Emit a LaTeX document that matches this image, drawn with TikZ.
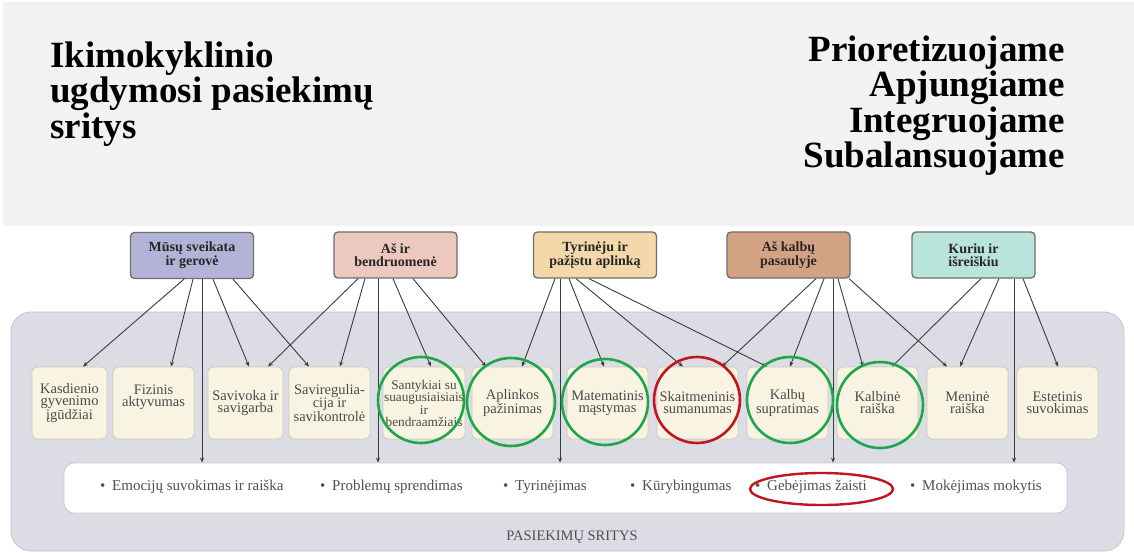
\documentclass[tikz,border=0pt]{standalone}
\usepackage{fontspec}
\setmainfont{Liberation Serif}
\usetikzlibrary{arrows.meta,shapes.geometric}
\definecolor{bandgray}{HTML}{F2F2F2}
\definecolor{panelc}{HTML}{DCDCE5}
\definecolor{paneledge}{HTML}{C4C4CC}
\definecolor{wedge}{HTML}{C9C9C9}
\definecolor{linkc}{HTML}{3C3C3C}
\definecolor{boxedge}{HTML}{6E6E6E}
\definecolor{areaedge}{HTML}{CFCABB}
\definecolor{cream}{HTML}{F8F4E1}
\definecolor{ringgreen}{HTML}{1FA64B}
\definecolor{ringred}{HTML}{C0161F}
\definecolor{areatext}{HTML}{4A4A4A}
\definecolor{toptext}{HTML}{262626}
\definecolor{itemtext}{HTML}{505050}
\definecolor{cM}{HTML}{B3B3D7}
\definecolor{cA}{HTML}{ECC8BE}
\definecolor{cT}{HTML}{F5D8AA}
\definecolor{cK}{HTML}{D3A285}
\definecolor{cU}{HTML}{B9E4DC}
\begin{document}
\begin{tikzpicture}[x=1pt,y=-1pt,
  topbox/.style={draw=boxedge, line width=1.3pt, rounded corners=4pt, minimum width=123pt, minimum height=46pt, inner sep=0pt, align=center, font={\fontsize{14}{12.5}\selectfont\bfseries}, text=toptext},
  areabox/.style={draw=areaedge, line width=0.8pt, fill=cream, rounded corners=5pt, minimum height=72pt, inner sep=0pt, align=center, font={\fontsize{14.5}{12}\selectfont}, text=areatext},
  link/.style={draw=linkc, line width=0.9pt, -{Stealth[length=5pt,width=4pt]}},
  ring/.style={circle, draw=ringgreen, line width=2.6pt, minimum size=86pt, inner sep=0pt},
  item/.style={anchor=west, inner sep=0pt, font={\fontsize{15}{16}\selectfont}, text=itemtext},
  title/.style={inner sep=0pt, font={\fontsize{37}{35.5}\selectfont\bfseries}, text=black}
]
\useasboundingbox (0,0) rectangle (1134,552);
\fill[white] (0,0) rectangle (1134,552);
\fill[bandgray] (3,2) rectangle (1134,226);

\node[title, anchor=north west, align=left] (t1) at (50,41.5) {Ikimokyklinio\\ugdymosi pasiekimų\\sritys};
\node[title, anchor=north east, align=right] (t2) at (1065,35.5) {Prioretizuojame\\Apjungiame\\Integruojame\\Subalansuojame};

% panel
\node[draw=paneledge, line width=0.8pt, fill=panelc, rounded corners=20pt, minimum width=1113pt, minimum height=239pt, inner sep=0pt] (P) at (567.5,431.5) {};
\node[draw=wedge, line width=0.8pt, fill=white, rounded corners=10pt, minimum width=1003pt, minimum height=50pt, inner sep=0pt] (W) at (565.5,488) {};
\node[inner sep=0pt, font={\fontsize{14.5}{16}\selectfont}, text=itemtext] (lab) at (572,537) {PASIEKIMŲ SRITYS};

% top boxes
\node[topbox, fill=cM] (M) at (192,255.5) {Mūsų sveikata\\ir gerovė};
\node[topbox, fill=cA] (A) at (395.5,255) {Aš ir\\bendruomenė};
\node[topbox, fill=cT] (T) at (595,255) {Tyrinėju ir\\pažįstu aplinką};
\node[topbox, fill=cK] (K) at (788.5,255) {Aš kalbų\\pasaulyje};
\node[topbox, fill=cU] (U) at (973.5,255) {Kuriu ir\\išreiškiu};

% area boxes
\node[areabox, minimum width=75pt] (b1) at (69.5,403) {Kasdienio\\gyvenimo\\įgūdžiai};
\node[areabox, minimum width=81pt] (b2) at (153.5,403) {Fizinis\\aktyvumas\\\strut};
\node[areabox, minimum width=75pt] (b3) at (245.5,403) {Savivoka ir\\savigarba};
\node[areabox, minimum width=81pt] (b4) at (329.5,403) {Saviregulia-\\cija ir\\savikontrolė};
\node[areabox, minimum width=82pt, font={\fontsize{13.3}{11.6}\selectfont}] (b5) at (424,403) {Santykiai su\\suaugusiaisiais\\ir\\bendraamžiais};
\node[areabox, minimum width=81pt] (b6) at (512.5,403) {Aplinkos\\pažinimas};
\node[areabox, minimum width=81pt] (b7) at (607.5,403) {Matematinis\\mąstymas};
\node[areabox, minimum width=81pt] (b8) at (697.5,403) {Skaitmeninis\\sumanumas};
\node[areabox, minimum width=81pt] (b9) at (787.5,403) {Kalbų\\supratimas};
\node[areabox, minimum width=81pt] (b10) at (877.5,403) {Kalbinė\\raiška};
\node[areabox, minimum width=81pt] (b11) at (967.5,403) {Meninė\\raiška};
\node[areabox, minimum width=81pt] (b12) at (1057.5,403) {Estetinis\\suvokimas};

% items
\node[item] (i1) at (100,487) {•\hspace{0.45em}Emocijų suvokimas ir raiška};
\node[item] (i2) at (320,487) {•\hspace{0.45em}Problemų sprendimas};
\node[item] (i3) at (503,487) {•\hspace{0.45em}Tyrinėjimas};
\node[item] (i4) at (630,487) {•\hspace{0.45em}Kūrybingumas};
\node[item] (i5) at (755,487) {•\hspace{0.45em}Gebėjimas žaisti};
\node[item] (i6) at (910,487) {•\hspace{0.45em}Mokėjimas mokytis};

% links from M
\draw[link] (184,0 |- M.south) -- (83,0 |- b1.north);
\draw[link] (193,0 |- M.south) -- (171,0 |- b2.north);
\draw[link] (202,0 |- M.south) -- (202,0 |- W.north);
\draw[link] (213,0 |- M.south) -- (249,0 |- b3.north);
\draw[link] (233,0 |- M.south) -- (309,0 |- b4.north);
% links from A
\draw[link] (358,0 |- A.south) -- (268,0 |- b3.north);
\draw[link] (365,0 |- A.south) -- (340,0 |- b4.north);
\draw[link] (378,0 |- A.south) -- (378,0 |- W.north);
\draw[link] (393,0 |- A.south) -- (431,0 |- b5.north);
\draw[link] (413,0 |- A.south) -- (486,0 |- b6.north);
% links from T
\draw[link] (555,0 |- T.south) -- (522,0 |- b6.north);
\draw[link] (560,0 |- T.south) -- (560,0 |- W.north);
\draw[link] (569,0 |- T.south) -- (604,0 |- b7.north);
\draw[link] (576,0 |- T.south) -- (683,0 |- b8.north);
\draw[link] (589,0 |- T.south) -- (767,0 |- b9.north);
% links from K
\draw[link] (816,0 |- K.south) -- (722,0 |- b8.north);
\draw[link] (824,0 |- K.south) -- (790,0 |- b9.north);
\draw[link] (833,0 |- K.south) -- (833,0 |- W.north);
\draw[link] (838,0 |- K.south) -- (863,0 |- b10.north);
\draw[link] (849,0 |- K.south) -- (947,0 |- b11.north);
% links from U
\draw[link] (981,0 |- U.south) -- (892,0 |- b10.north);
\draw[link] (999,0 |- U.south) -- (960,0 |- b11.north);
\draw[link] (1014,0 |- U.south) -- (1014,0 |- W.north);
\draw[link] (1023,0 |- U.south) -- (1058,0 |- b12.north);

% rings
\node[ring] (c5) at (421,400) {};
\node[ring, minimum size=88pt] (c6) at (511,402) {};
\node[ring] (c7) at (605,402) {};
\node[ring, draw=ringred] (c8) at (697,400) {};
\node[ring] (c9) at (790,400) {};
\node[ring] (c10) at (880,405) {};
\node[ellipse, draw=ringred, line width=2.4pt, minimum width=143pt, minimum height=32pt, inner sep=0pt] (e5) at (821.5,489) {};
\end{tikzpicture}
\end{document}
